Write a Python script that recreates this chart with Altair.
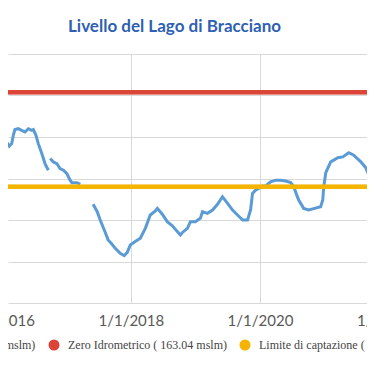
import altair as alt
import pandas as pd

title_text = "Livello del Lago di Bracciano"

# Lake level record (m s.l.m.), split where the record has gaps
seg1_dates = ["2015-11-22", "2015-12-21", "2016-01-08", "2016-01-27", "2016-02-11", "2016-02-25",
              "2016-03-05", "2016-03-14", "2016-04-02", "2016-04-21", "2016-05-10", "2016-05-29",
              "2016-06-17", "2016-06-26", "2016-07-11", "2016-07-24", "2016-08-13", "2016-08-31",
              "2016-09-19"]
seg1_levels = [162.43, 162.42, 162.40, 162.44, 162.39, 162.42, 162.52, 162.59, 162.60, 162.58,
               162.56, 162.60, 162.58, 162.59, 162.52, 162.42, 162.30, 162.18, 162.10]

seg2_dates = ["2016-09-29", "2016-10-17", "2016-11-06", "2016-11-24", "2016-12-13", "2017-01-01",
              "2017-01-20", "2017-01-30", "2017-02-27", "2017-03-18"]
seg2_levels = [162.24, 162.20, 162.18, 162.12, 162.10, 162.06, 161.98, 161.95, 161.95, 161.93]

seg3_dates = ["2017-05-30", "2017-06-22", "2017-07-09", "2017-08-01", "2017-08-23", "2017-09-09",
              "2017-10-02", "2017-10-30", "2017-11-22", "2017-12-09", "2017-12-26", "2018-01-23",
              "2018-02-21", "2018-03-21", "2018-04-18", "2018-05-17", "2018-05-28", "2018-06-25",
              "2018-07-23", "2018-08-21", "2018-09-18", "2018-10-05", "2018-10-17", "2018-11-14",
              "2018-12-01", "2018-12-29", "2019-01-26", "2019-02-07", "2019-03-07", "2019-04-05",
              "2019-05-03", "2019-05-31", "2019-06-29", "2019-07-27", "2019-08-24", "2019-09-22",
              "2019-10-20", "2019-11-06", "2019-11-17", "2019-12-04", "2019-12-21", "2020-01-13",
              "2020-01-30", "2020-02-27", "2020-03-27", "2020-04-24", "2020-05-22", "2020-06-20",
              "2020-07-07", "2020-07-24", "2020-08-04", "2020-09-01", "2020-09-29", "2020-11-02",
              "2020-12-06", "2020-12-18", "2020-12-23", "2021-01-04", "2021-02-01", "2021-03-13",
              "2021-04-10", "2021-05-14", "2021-06-11", "2021-07-21", "2021-08-18", "2021-09-16",
              "2021-10-14", "2021-11-06"]
seg3_levels = [161.69, 161.60, 161.50, 161.38, 161.26, 161.22, 161.16, 161.10, 161.07, 161.11,
               161.20, 161.24, 161.28, 161.40, 161.56, 161.61, 161.64, 161.57, 161.48, 161.43,
               161.36, 161.32, 161.35, 161.40, 161.48, 161.48, 161.52, 161.60, 161.58, 161.62,
               161.69, 161.78, 161.70, 161.62, 161.56, 161.50, 161.50, 161.62, 161.82, 161.86,
               161.88, 161.91, 161.91, 161.96, 161.98, 161.98, 161.97, 161.95, 161.90, 161.80,
               161.74, 161.64, 161.62, 161.64, 161.66, 161.74, 161.89, 162.07, 162.20, 162.25,
               162.26, 162.31, 162.28, 162.20, 162.13, 161.98, 161.86, 161.77]

zero_idrometrico = 163.04
limite_captazione = 161.90

series_names = ["Livello ( mslm)", "Zero Idrometrico ( 163.04 mslm)",
                "Limite di captazione ( 161.90 mslm)"]
series_colors = ["#5b9bd5", "#db4437", "#f4b400"]

tick_dates = ["2016-01-01", "2018-01-01", "2020-01-01", "2022-01-01"]
tick_labels = ["1/1/2016", "1/1/2018", "1/1/2020", "1/1/2022"]
grid_dates = ["2018-01-01", "2020-01-01"]
y_ticks = [160.5, 161.0, 161.5, 162.0, 162.5, 163.0, 163.5]
x_view = ["2016-02-03T21:36:00", "2021-08-25T00:00:00"]  # visible window of the time axis (UTC)


def ms(s):
    return int(pd.Timestamp(s, tz="UTC").value // 10**6)


rows = []
for seg, (ds, ls) in enumerate([(seg1_dates, seg1_levels), (seg2_dates, seg2_levels),
                                (seg3_dates, seg3_levels)]):
    assert len(ds) == len(ls)
    for d, l in zip(ds, ls):
        rows.append({"date": d, "level": l, "seg": seg})
level_df = pd.DataFrame(rows)

legend_df = pd.DataFrame({"series": series_names})
tick_df = pd.DataFrame({"date": tick_dates, "label": tick_labels})

grid_color = "#d9d9d9"
x_scale = alt.Scale(domain=[ms(x_view[0]), ms(x_view[1])], nice=False)
y_scale = alt.Scale(domain=[160.5, 163.5], nice=False, zero=False)
color_scale = alt.Scale(domain=series_names, range=series_colors)

x_enc = alt.X("date:T", scale=x_scale,
              axis=alt.Axis(values=[ms(d) for d in grid_dates],
                            grid=True, gridColor=grid_color, labels=False, ticks=False,
                            domain=False, title=None))
y_enc = alt.Y("level:Q", scale=y_scale,
              axis=alt.Axis(values=y_ticks, grid=True, gridColor=grid_color, labels=False,
                            ticks=False, domain=False, title=None))

line = alt.Chart(level_df).mark_line(color=series_colors[0], strokeWidth=3, clip=True).encode(
    x=x_enc, y=y_enc, detail="seg:N")

rule_zero = alt.Chart(legend_df).mark_rule(color=series_colors[1], strokeWidth=4).encode(
    y=alt.datum(zero_idrometrico))
rule_lim = alt.Chart(legend_df).mark_rule(color=series_colors[2], strokeWidth=4).encode(
    y=alt.datum(limite_captazione))

legend_layer = alt.Chart(legend_df).transform_filter("false").mark_circle(size=121, opacity=1).encode(
    color=alt.Color("series:N", scale=color_scale,
                    legend=alt.Legend(orient="none", legendX=-68, legendY=285,
                                      direction="horizontal", title=None,
                                      symbolType="circle", symbolSize=121,
                                      symbolStrokeWidth=0, labelFont="Liberation Serif",
                                      labelFontSize=12, labelColor="#444444", labelOffset=8,
                                      columnPadding=12, labelLimit=400, padding=0)))

ticks_text = alt.Chart(tick_df).mark_text(font="Lato", fontSize=15, color="#595959",
                                          baseline="middle", align="center").encode(
    x=alt.X("date:T", scale=x_scale), y=alt.value(267), text="label:N")

chart = alt.layer(line, rule_zero, rule_lim, legend_layer, ticks_text).properties(
    width=359, height=249,
    autosize=alt.AutoSizeParams(type="none"),
    padding={"left": 0, "top": 46, "right": 0, "bottom": 51},
    title=alt.TitleParams(title_text, font="Lato", fontSize=17, fontWeight="bold",
                          color="#2f5fb3", anchor="start", frame="group", dx=60,
                          baseline="alphabetic", offset=5),
    background="white",
).configure_view(strokeWidth=0)

chart.save("out.html", embed_options={"renderer": "svg", "actions": False})
